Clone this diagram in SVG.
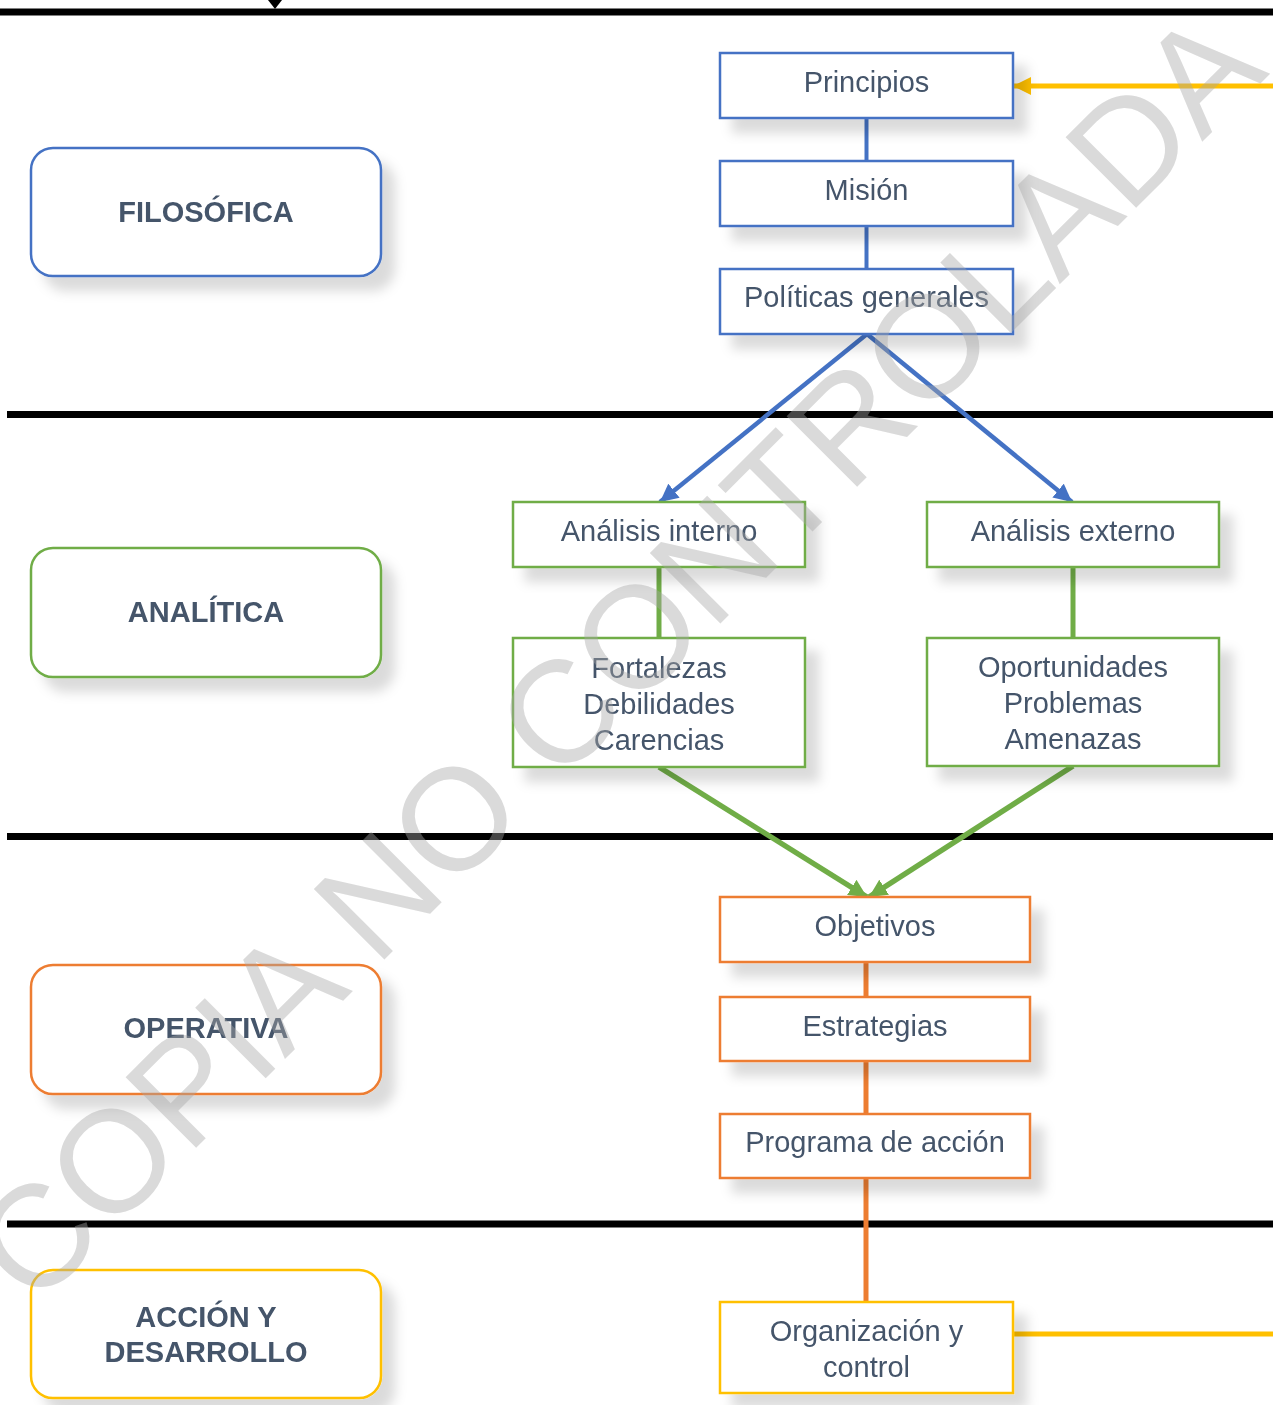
<svg xmlns="http://www.w3.org/2000/svg" width="1273" height="1405" viewBox="0 0 1273 1405">
<defs>
<style>
.lvl{fill:#fff;stroke-width:2.5}
.box{fill:#fff;stroke-width:2.5}
.lt{font-family:"Liberation Sans",Arial,sans-serif;font-weight:bold;font-size:29px;fill:#44546a;text-anchor:middle}
.bt{font-family:"Liberation Sans",Arial,sans-serif;font-size:29px;fill:#44546a;text-anchor:middle}
.blue{stroke:#4472c4}
.green{stroke:#70ad47}
.orange{stroke:#ed7d31}
.yellow{stroke:#ffc000}
.sep{stroke:#000;stroke-width:7}
.wm{font-family:"Liberation Sans",Arial,sans-serif;font-size:145px;fill:#a6a6a6;fill-opacity:0.42}
</style>
<filter id="sh" x="-10%" y="-20%" width="130%" height="160%">
<feDropShadow dx="13" dy="14" stdDeviation="6" flood-color="#000" flood-opacity="0.14"/>
</filter>
<marker id="ab" markerUnits="userSpaceOnUse" markerWidth="20" markerHeight="18" refX="18" refY="9" orient="auto"><path d="M0,0 L18,9 L0,18 z" fill="#4472c4"/></marker>
<marker id="ag" markerUnits="userSpaceOnUse" markerWidth="20" markerHeight="18" refX="18" refY="9" orient="auto"><path d="M0,0 L18,9 L0,18 z" fill="#70ad47"/></marker>
<marker id="ay" markerUnits="userSpaceOnUse" markerWidth="20" markerHeight="18" refX="18" refY="9" orient="auto"><path d="M0,0 L18,9 L0,18 z" fill="#ffc000"/></marker>
</defs>
<rect width="1273" height="1405" fill="#fff"/>

<g id="separators">
<line class="sep" x1="0" y1="12" x2="1273" y2="12"/>
<path d="M268,0 L282,0 L275,9 z" fill="#000"/>
<line class="sep" x1="7" y1="414.5" x2="1273" y2="414.5"/>
<line class="sep" x1="7" y1="836.5" x2="1273" y2="836.5"/>
<line class="sep" x1="7" y1="1224" x2="1273" y2="1224"/>
</g>

<g id="connectors" fill="none">
<line class="blue" stroke-width="4" x1="866.5" y1="118" x2="866.5" y2="161"/>
<line class="blue" stroke-width="4" x1="866.5" y1="226" x2="866.5" y2="269"/>
<line class="blue" stroke-width="4.5" x1="867" y1="334" x2="660" y2="502" marker-end="url(#ab)"/>
<line class="blue" stroke-width="4.5" x1="867" y1="334" x2="1072" y2="502" marker-end="url(#ab)"/>
<line class="green" stroke-width="5" x1="659" y1="567" x2="659" y2="638"/>
<line class="green" stroke-width="5" x1="1073" y1="567" x2="1073" y2="638"/>
<line class="green" stroke-width="5.5" x1="659" y1="767" x2="867" y2="897" marker-end="url(#ag)"/>
<line class="green" stroke-width="5.5" x1="1073" y1="766" x2="869" y2="897" marker-end="url(#ag)"/>
<line class="orange" stroke-width="5" x1="866" y1="962" x2="866" y2="997"/>
<line class="orange" stroke-width="5" x1="866" y1="1061" x2="866" y2="1114"/>
<line class="orange" stroke-width="5" x1="866" y1="1178" x2="866" y2="1302"/>
<line class="yellow" stroke-width="5" x1="1273" y1="86" x2="1013" y2="86" marker-end="url(#ay)"/>
<line class="yellow" stroke-width="5" x1="1013" y1="1334" x2="1273" y2="1334"/>
</g>

<g id="n-filosofica" filter="url(#sh)">
<rect class="lvl blue" x="31" y="148" width="350" height="128" rx="22"/>
<text class="lt" x="206" y="222">FILOSÓFICA</text>
</g>
<g id="n-analitica" filter="url(#sh)">
<rect class="lvl green" x="31" y="548" width="350" height="129" rx="22"/>
<text class="lt" x="206" y="622">ANALÍTICA</text>
</g>
<g id="n-operativa" filter="url(#sh)">
<rect class="lvl orange" x="31" y="965" width="350" height="129" rx="22"/>
<text class="lt" x="206" y="1038">OPERATIVA</text>
</g>
<g id="n-accion" filter="url(#sh)">
<rect class="lvl yellow" x="31" y="1270" width="350" height="128" rx="22"/>
<text class="lt" x="206" y="1327">ACCIÓN Y</text>
<text class="lt" x="206" y="1362">DESARROLLO</text>
</g>

<g id="n-principios" filter="url(#sh)">
<rect class="box blue" x="720" y="53" width="293" height="65"/>
<text class="bt" x="866.5" y="92">Principios</text>
</g>
<g id="n-mision" filter="url(#sh)">
<rect class="box blue" x="720" y="161" width="293" height="65"/>
<text class="bt" x="866.5" y="200">Misión</text>
</g>
<g id="n-politicas" filter="url(#sh)">
<rect class="box blue" x="720" y="269" width="293" height="65"/>
<text class="bt" x="866.5" y="307">Políticas generales</text>
</g>
<g id="n-interno" filter="url(#sh)">
<rect class="box green" x="513" y="502" width="292" height="65"/>
<text class="bt" x="659" y="541">Análisis interno</text>
</g>
<g id="n-externo" filter="url(#sh)">
<rect class="box green" x="927" y="502" width="292" height="65"/>
<text class="bt" x="1073" y="541">Análisis externo</text>
</g>
<g id="n-fortalezas" filter="url(#sh)">
<rect class="box green" x="513" y="638" width="292" height="129"/>
<text class="bt" x="659" y="678">Fortalezas</text>
<text class="bt" x="659" y="714">Debilidades</text>
<text class="bt" x="659" y="750">Carencias</text>
</g>
<g id="n-oportunidades" filter="url(#sh)">
<rect class="box green" x="927" y="638" width="292" height="128"/>
<text class="bt" x="1073" y="677">Oportunidades</text>
<text class="bt" x="1073" y="713">Problemas</text>
<text class="bt" x="1073" y="749">Amenazas</text>
</g>
<g id="n-objetivos" filter="url(#sh)">
<rect class="box orange" x="720" y="897" width="310" height="65"/>
<text class="bt" x="875" y="936">Objetivos</text>
</g>
<g id="n-estrategias" filter="url(#sh)">
<rect class="box orange" x="720" y="997" width="310" height="64"/>
<text class="bt" x="875" y="1036">Estrategias</text>
</g>
<g id="n-programa" filter="url(#sh)">
<rect class="box orange" x="720" y="1114" width="310" height="64"/>
<text class="bt" x="875" y="1152">Programa de acción</text>
</g>
<g id="n-organizacion" filter="url(#sh)">
<rect class="box yellow" x="720" y="1302" width="293" height="91"/>
<text class="bt" x="866.5" y="1341">Organización y</text>
<text class="bt" x="866.5" y="1377">control</text>
</g>

<g id="watermark">
<text class="wm" transform="translate(34,1310) rotate(-45)">COPIA NO CONTROLADA</text>
</g>
</svg>
